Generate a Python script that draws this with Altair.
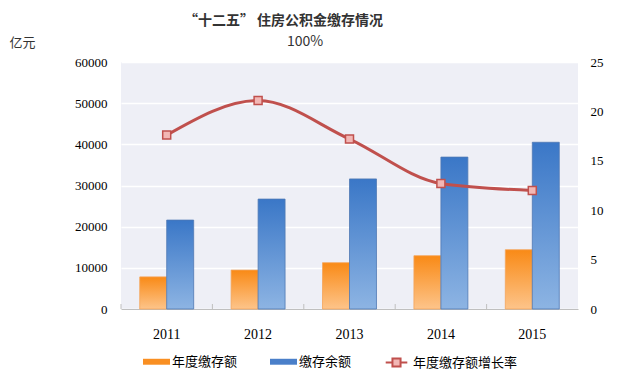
import altair as alt
import pandas as pd

years = ['2011', '2012', '2013', '2014', '2015']
deposit = [7800, 9450, 11250, 12950, 14400]
balance = [21600, 26700, 31600, 36900, 40500]
growth = [17.6, 21.1, 17.2, 12.7, 12.0]
series = ['年度缴存额', '缴存余额']
line_name = '年度缴存额增长率'
left_ticks = [0, 10000, 20000, 30000, 40000, 50000, 60000]
right_ticks = [0, 5, 10, 15, 20, 25]

bars_df = pd.DataFrame({
    'year': years * 2,
    'series': [series[0]] * 5 + [series[1]] * 5,
    'value': deposit + balance,
})
line_df = pd.DataFrame({'year': years, 'rate': growth, 'name': [line_name] * 5})

W, H = 457, 247
CJK = 'Noto Sans CJK SC'
SERIF = 'Liberation Serif'

xscale = alt.Scale(domain=years, paddingInner=0, paddingOuter=0)
xaxis = alt.Axis(title=None, labelAngle=0, ticks=False, domain=True, domainColor='#BFBFBF',
                 labelFont=SERIF, labelFontSize=14, labelColor='#000', labelPadding=18, grid=False)


def X(**kw):
    return alt.X('year:N', scale=xscale, axis=xaxis, **kw)


yleft = alt.Y('value:Q', scale=alt.Scale(domain=[0, 60000]),
              axis=alt.Axis(values=left_ticks, format='d', title='亿元', titleAngle=0,
                            titleAlign='left', titleBaseline='middle', titleX=-112, titleY=-20,
                            titleFont=CJK, titleFontSize=13, titleFontWeight='normal',
                            titleColor='#333', labelFont=SERIF, labelFontSize=13,
                            labelColor='#000', labelPadding=14, ticks=False, domain=False,
                            gridColor='white', gridWidth=1.5, gridOpacity=1))

color = alt.Color('series:N', scale=alt.Scale(domain=series, range=['#F98F22', '#4A7FC9']),
                  legend=alt.Legend(title=None, orient='none', legendX=22, legendY=286,
                                    direction='horizontal', symbolType='M-1,-0.22H1V0.22H-1Z',
                                    symbolSize=729, labelFont=CJK, labelFontSize=13,
                                    labelColor='#000', columnPadding=32, labelOffset=2,
                                    symbolStrokeWidth=0, padding=0))
xoff = alt.XOffset('series:N', scale=alt.Scale(domain=series, paddingInner=0, paddingOuter=0.694))

grad_orange = alt.Gradient(gradient='linear', x1=0, x2=0, y1=0, y2=1, stops=[
    alt.GradientStop(color='#F98A16', offset=0), alt.GradientStop(color='#FDC48A', offset=1)])
grad_blue = alt.Gradient(gradient='linear', x1=0, x2=0, y1=0, y2=1, stops=[
    alt.GradientStop(color='#3A77C7', offset=0), alt.GradientStop(color='#8DB4E3', offset=1)])

bar1 = alt.Chart(bars_df).transform_filter(alt.datum.series == series[0]).mark_bar(
    fill=grad_orange, stroke='#F4A55A', strokeWidth=0.8).encode(x=X(), xOffset=xoff, y=yleft, color=color)
bar2 = alt.Chart(bars_df).transform_filter(alt.datum.series == series[1]).mark_bar(
    fill=grad_blue, stroke='#4F78B4', strokeWidth=0.8).encode(x=X(), xOffset=xoff, y=yleft, color=color)

ticks = alt.Chart(line_df).mark_rule(color='#BFBFBF', strokeWidth=1).encode(
    x=X(bandPosition=0), y=alt.value(H - 5), y2=alt.value(H))

sub = alt.Chart(pd.DataFrame({'t': ['100%']})).mark_text(
    font=CJK, fontSize=14, color='#333').encode(text='t:N', x=alt.value(184), y=alt.value(-20))

yright = alt.Y('rate:Q', scale=alt.Scale(domain=[0, 25]),
               axis=alt.Axis(orient='right', values=right_ticks, title=None, labelFont=SERIF,
                             labelFontSize=13, labelColor='#000', labelPadding=12, ticks=False,
                             domain=False, grid=False))
stroke = alt.Stroke('name:N', scale=alt.Scale(domain=[line_name], range=['#C0504D']),
                    legend=alt.Legend(title=None, orient='none', legendX=261, legendY=286,
                                      symbolType='M-0.8,0H-0.3M0.3,0H0.8M-0.3,-0.3H0.3V0.3H-0.3Z',
                                      symbolSize=729, symbolFillColor='#F2B7B5',
                                      symbolStrokeWidth=2, labelFont=CJK, labelFontSize=13,
                                      labelColor='#000', labelOffset=2, padding=0))

line = alt.Chart(line_df).mark_line(interpolate='monotone', strokeWidth=3).encode(
    x=X(), y=yright, stroke=stroke)
pts = alt.Chart(line_df).mark_square(size=64, fill='#F2B7B5', strokeWidth=1.5, opacity=1).encode(
    x=X(), y=yright, stroke=stroke)

left = alt.layer(bar1, bar2, ticks, sub)
right = alt.layer(line, pts)

chart = alt.layer(left, right).resolve_scale(y='independent').properties(
    width=W, height=H,
    autosize=alt.AutoSizeParams(type='none'),
    padding={'left': 113, 'top': 54, 'right': 40, 'bottom': 60},
    title=alt.TitleParams(text='“十二五” 住房公积金缴存情况', font=CJK, fontSize=14,
                          fontWeight='bold', color='#333', anchor='middle', dx=-66, offset=7),
).configure_view(fill='#EEEFF6', stroke=None)

chart.save('out.html', embed_options={'renderer': 'svg', 'actions': False})
